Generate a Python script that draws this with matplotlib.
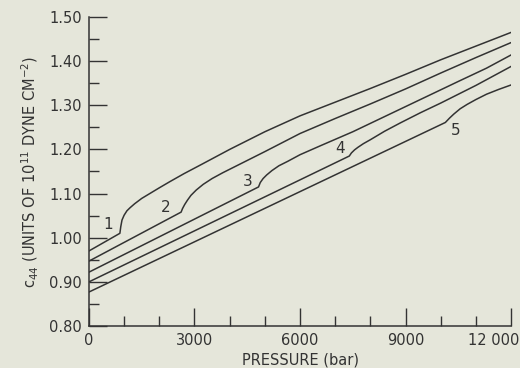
import matplotlib
matplotlib.use("Agg")
import matplotlib.pyplot as plt
import matplotlib.transforms as mtransforms
from matplotlib.ticker import MultipleLocator, FixedLocator

# c44 vs pressure, five isotherms
p1 = [0, 880, 905, 940, 1000, 1080, 1170, 1300, 1500, 1750, 2000, 2300, 2700, 3200, 4000, 5000, 6000, 7000, 8000, 9000, 10000, 11000, 12000]
c1 = [0.970, 1.010, 1.025, 1.040, 1.051, 1.061, 1.068, 1.077, 1.089, 1.101, 1.113, 1.127, 1.145, 1.166, 1.200, 1.240, 1.276, 1.307, 1.338, 1.370, 1.403, 1.434, 1.465]

p2 = [0, 2620, 2660, 2720, 2800, 2900, 3050, 3250, 3500, 3800, 4300, 5000, 6000, 7000, 8000, 9000, 10000, 11000, 12000]
c2 = [0.947, 1.058, 1.066, 1.075, 1.085, 1.096, 1.108, 1.121, 1.134, 1.147, 1.167, 1.195, 1.236, 1.270, 1.303, 1.337, 1.373, 1.408, 1.442]

p3 = [0, 4820, 4870, 4950, 5050, 5200, 5400, 5650, 6000, 6600, 7500, 8500, 9500, 10500, 11300, 12000]
c3 = [0.922, 1.115, 1.125, 1.134, 1.142, 1.152, 1.163, 1.173, 1.188, 1.209, 1.240, 1.278, 1.316, 1.354, 1.384, 1.414]

p4 = [0, 7400, 7460, 7550, 7650, 7800, 8000, 8400, 8850, 9420, 10000, 11000, 12000]
c4 = [0.900, 1.185, 1.192, 1.199, 1.205, 1.213, 1.222, 1.241, 1.260, 1.283, 1.305, 1.345, 1.388]

p5 = [0, 10130, 10250, 10370, 10550, 10750, 11000, 11300, 11650, 12000]
c5 = [0.877, 1.261, 1.271, 1.280, 1.292, 1.302, 1.313, 1.325, 1.336, 1.346]

curve_names = ["1", "2", "3", "4", "5"]
name_p = [550, 2180, 4510, 7140, 10415]
name_c = [1.030, 1.068, 1.127, 1.203, 1.242]

x_ticks = [0, 3000, 6000, 9000, 12000]
x_labels = ["0", "3000", "6000", "9000", "12 000"]
y_ticks = [0.80, 0.90, 1.00, 1.10, 1.20, 1.30, 1.40, 1.50]
y_labels = ["0.80", "0.90", "1.00", "1.10", "1.20", "1.30", "1.40", "1.50"]

paper = "#e5e6da"
ink = "#333333"

plt.rcParams['font.family'] = ['DejaVu Sans']
fig = plt.figure(figsize=(5.2, 3.68), dpi=100, facecolor=paper)
ax = fig.add_axes([0.171, 0.114, 0.812, 0.840])
ax.set_facecolor(paper)

for p, c in [(p1, c1), (p2, c2), (p3, c3), (p4, c4), (p5, c5)]:
    ax.plot(p, c, color=ink, lw=1.1, solid_joinstyle='round')

for name, x, y in zip(curve_names, name_p, name_c):
    ax.text(x, y, name, fontsize=11, color=ink, ha='center', va='center')

ax.set_xlim(0, 12000)
ax.set_ylim(0.80, 1.50)
for s in ['top', 'right']:
    ax.spines[s].set_visible(False)
for s in ['left', 'bottom']:
    ax.spines[s].set_color(ink)
    ax.spines[s].set_linewidth(1.1)

ax.xaxis.set_major_locator(FixedLocator(x_ticks))
ax.set_xticklabels(x_labels)
ax.xaxis.set_minor_locator(MultipleLocator(1000))
ax.yaxis.set_major_locator(FixedLocator(y_ticks))
ax.set_yticklabels(y_labels)
ax.yaxis.set_minor_locator(MultipleLocator(0.05))

ax.tick_params(which='both', direction='in', colors=ink, width=1.0, labelsize=10.5, pad=5)
ax.tick_params(which='major', length=13)
ax.tick_params(which='minor', length=7)

# last label sits left of its tick in the original so it stays on the page
last = ax.get_xticklabels()[-1]
last.set_transform(last.get_transform() + mtransforms.ScaledTranslation(-0.17, 0, fig.dpi_scale_trans))

ax.set_xlabel("PRESSURE (bar)", fontsize=10.5, color=ink, labelpad=3)
ax.set_ylabel(r"c$_{44}$ (UNITS OF 10$^{11}$ DYNE CM$^{-2}$)", fontsize=10.5, color=ink, labelpad=6)

fig.savefig("out.png", dpi=100, facecolor=paper)
